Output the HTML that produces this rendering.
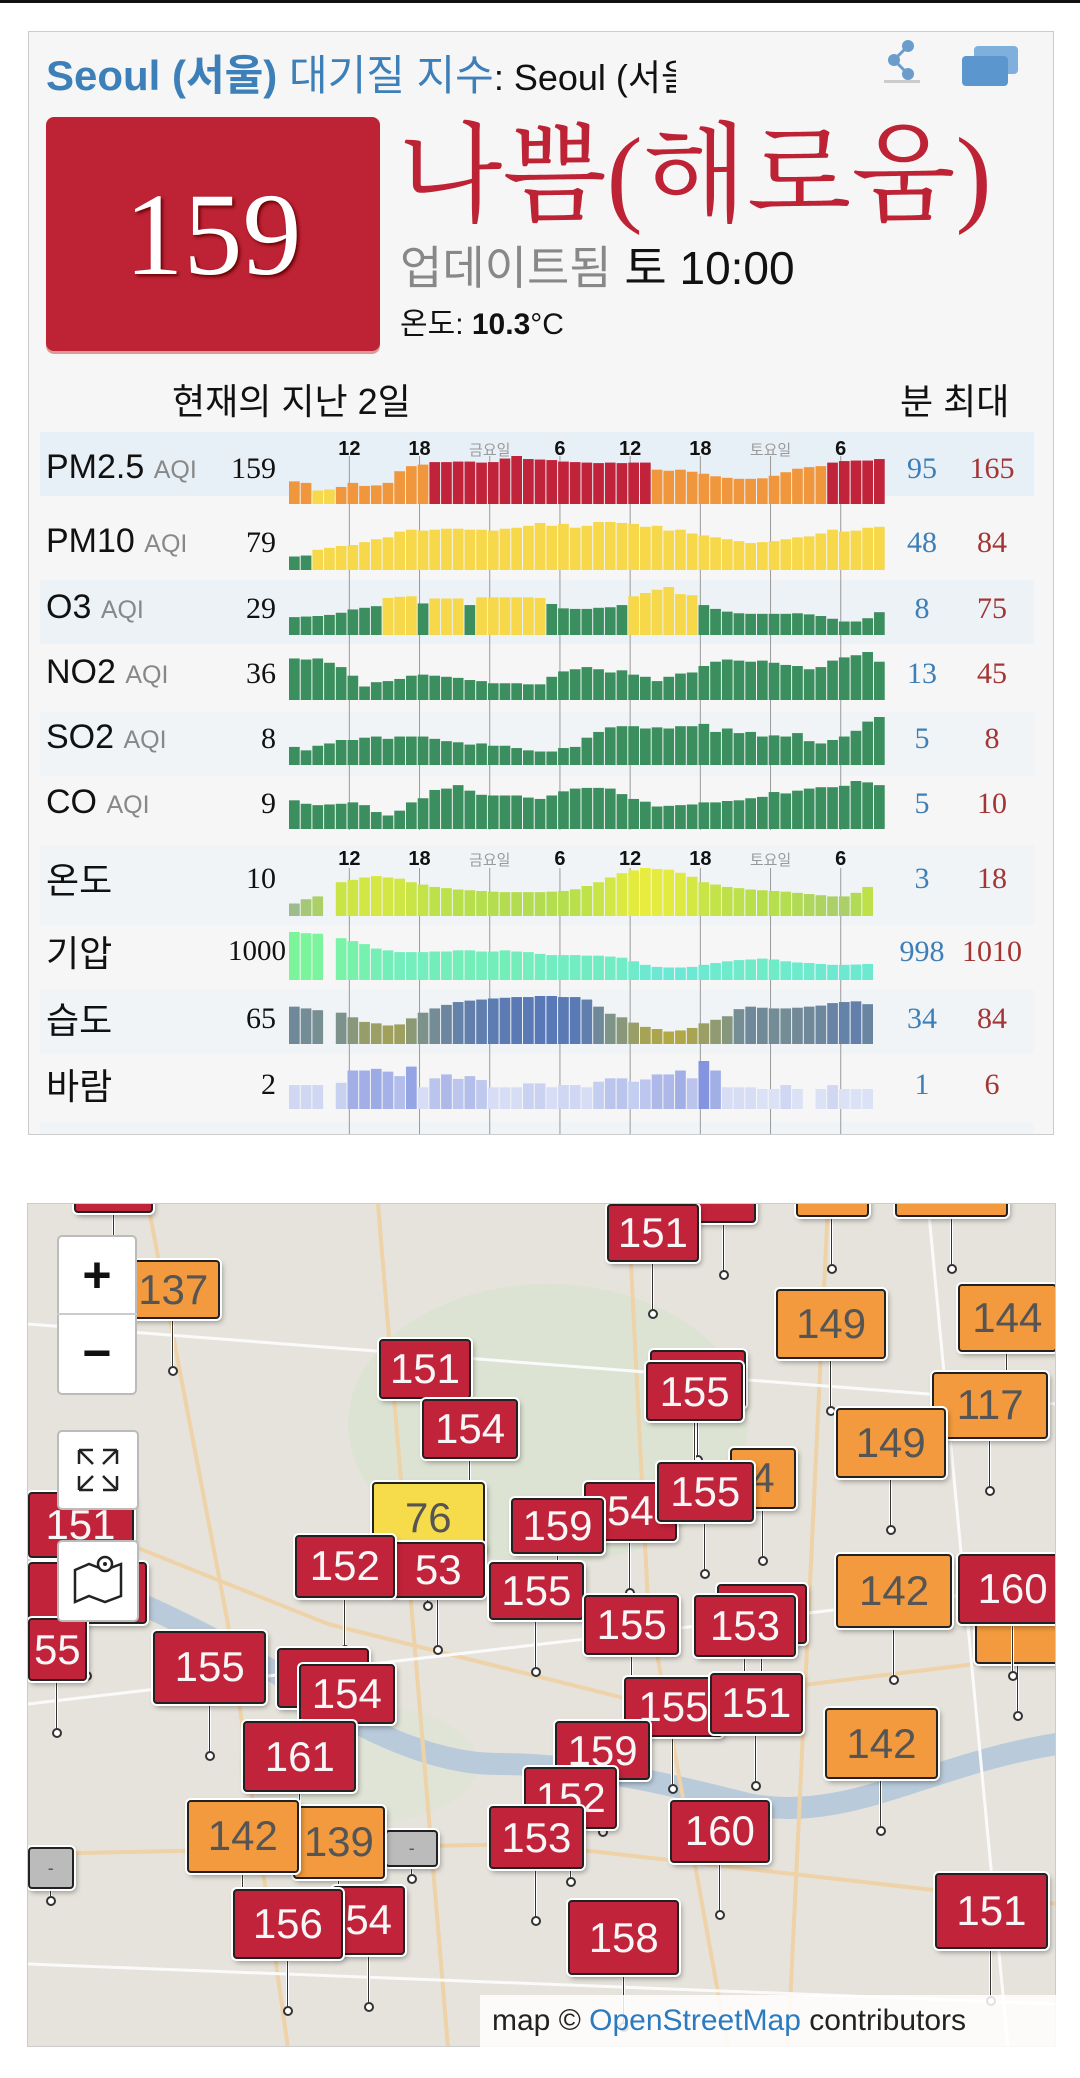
<!DOCTYPE html>
<html><head><meta charset="utf-8">
<style>
*{margin:0;padding:0;box-sizing:border-box}
body{width:1080px;height:2078px;background:#fff;position:relative;overflow:hidden;font-family:"Liberation Sans","Noto Sans CJK KR",sans-serif}
.a{position:absolute;white-space:nowrap}
#card{position:absolute;left:28px;top:31px;width:1026px;height:1104px;background:#f5f6f5;border:1px solid #ccc;overflow:hidden}
.band{position:absolute;left:40px;width:994px;height:64px}
.lbl{position:absolute;left:46px;font-size:34px;color:#111;font-family:"Liberation Sans Narrow","Liberation Sans","Noto Sans CJK KR",sans-serif}
.lbl small{font-size:25px;color:#888}
.cur{position:absolute;width:80px;text-align:right;left:196px;font-family:"Liberation Serif",serif;font-size:30px;color:#111}
.mn,.mx{position:absolute;width:90px;text-align:center;font-family:"Liberation Serif",serif;font-size:30px}
.mn{left:877px;color:#3d7fb8}.mx{left:947px;color:#a33535}
#map{position:absolute;left:27px;top:1203px;width:1029px;height:844px;background:#ece9e2;border:1px solid #ccc;overflow:hidden}
.mk{position:absolute;border:2px solid #222;box-shadow:0 0 0 2px #fff,2px 3px 6px rgba(0,0,0,.4);border-radius:4px;text-align:center;font-size:42px;color:#f4f4f4;font-family:"Liberation Sans",sans-serif}
.st{position:absolute;width:3px;background:#333;border-left:1px solid #fff;border-right:1px solid #fff}
.dt{position:absolute;width:10px;height:10px;border-radius:50%;background:#fff;border:2px solid #333}
.ctl{position:absolute;background:#fff;border:2px solid #bbb;border-radius:5px}
</style></head><body>
<div class="a" style="left:0;top:0;width:1080px;height:3px;background:#111"></div>
<div id="card"></div>

<div class="a" style="left:46px;top:42px;font-size:42px;font-family:'Liberation Sans Narrow','Liberation Sans','Noto Sans CJK KR',sans-serif;color:#3d7fb8;font-weight:bold;width:630px;overflow:hidden">Seoul (서울) <span style="font-weight:normal">대기질 지수</span><span style="color:#111;font-weight:normal;font-size:36px">: Seoul (서울)</span></div>
<svg class="a" style="left:880px;top:38px" width="44" height="46"><circle cx="28" cy="8" r="6" fill="#6a9ccc"/><circle cx="14" cy="22" r="6" fill="#6a9ccc"/><circle cx="28" cy="36" r="6" fill="#6a9ccc"/><path d="M28 8L14 22L28 36" stroke="#6a9ccc" stroke-width="3" fill="none"/><rect x="4" y="42" width="36" height="3" fill="#ccc"/></svg>
<svg class="a" style="left:960px;top:44px" width="62" height="44"><rect x="14" y="2" width="44" height="28" rx="4" fill="#7fb0dd"/><rect x="2" y="12" width="46" height="30" rx="4" fill="#5b96cf"/></svg>

<div class="a" style="left:46px;top:117px;width:334px;height:234px;background:#bd2235;border-radius:8px;box-shadow:0 3px 0 #d99"></div>
<div class="a" style="left:46px;top:160px;width:334px;text-align:center;font-family:'Liberation Serif',serif;font-size:118px;line-height:150px;color:#fff;text-shadow:2px 2px 3px #600">159</div>
<div class="a" style="left:398px;top:112px;font-family:'Liberation Serif','Noto Serif CJK SC',serif;font-size:108px;line-height:130px;color:#bd2235">나쁨(해로움)</div>
<div class="a" style="left:400px;top:240px;font-size:46px;line-height:56px;font-family:'Liberation Sans Narrow','Liberation Sans','Noto Sans CJK KR',sans-serif;color:#888">업데이트됨 <span style="color:#111">토 10:00</span></div>
<div class="a" style="left:400px;top:305px;font-size:30px;line-height:40px;color:#111;font-family:'Liberation Sans Narrow','Liberation Sans','Noto Sans CJK KR',sans-serif">온도: <b>10.3</b>°C</div>
<div class="a" style="left:172px;top:380px;font-size:36px;line-height:44px;color:#111">현재의 지난 2일</div>
<div class="a" style="left:900px;top:380px;font-size:36px;line-height:44px;color:#111">분 최대</div>

<div class="band" style="top:432px;background:#e8f0f7"></div>
<div class="band" style="top:580px;background:#ecf2f6"></div>
<div class="band" style="top:712px;background:#f1f4f6"></div>
<div class="band" style="top:845px;height:80px;background:#f1f4f6"></div>
<div class="band" style="top:990px;background:#f1f4f6"></div>
<div class="band" style="top:1122px;height:12px;background:#f1f4f6"></div>

<svg id="chart" class="a" style="left:0;top:0" width="1080" height="1134"></svg>
<div id="labels"></div>

<div id="map">
<svg class="a" style="left:0;top:0" width="1029" height="844">
<rect width="1029" height="844" fill="#e6e3dc"/>
<ellipse cx="520" cy="220" rx="200" ry="140" fill="#dde3d2"/>
<ellipse cx="330" cy="560" rx="120" ry="60" fill="#dfe4d6"/>
<path d="M0 360 C80 380 160 420 250 470 C320 520 400 560 470 560 C560 560 640 580 720 600 C820 620 900 560 1029 540" stroke="#b9cbdb" stroke-width="22" fill="none"/>
<path d="M0 300 L300 420 L620 500 L1029 450 M120 0 L200 420 L260 844 M600 0 L620 400 L700 844 M0 650 L500 640 L1029 700 M800 0 L760 844 M350 0 L420 844" stroke="#eed2a8" stroke-width="4" fill="none"/>
<path d="M0 120 L1029 200 M0 500 L1029 380 M0 760 L1029 800 M900 0 L980 844" stroke="#fafafa" stroke-width="3" fill="none"/>
</svg>
</div>

<script>
// ---- data (hourly, last ~2 days) ----
const tickHours=[12,18,24,30,36,42,48,54];
const tickLabels=['12','18','금요일','6','12','18','토요일','6'];
const pm25=[115,112,97,99,104,112,106,107,112,135,145,148,153,153,154,154,152,153,160,165,159,158,157,154,153,152,151,152,151,152,152,138,136,138,134,130,125,122,120,120,121,126,133,140,143,145,152,155,156,156,159];
const pm10=[48,49,55,57,59,60,63,66,68,74,76,75,76,77,77,76,76,75,77,78,80,83,80,82,78,80,84,84,83,82,79,80,75,76,72,70,68,66,64,62,63,64,66,68,69,72,76,74,75,78,79];
const o3=[20,21,22,24,28,34,37,40,55,57,58,45,54,54,54,42,56,56,56,56,56,55,44,36,35,35,37,38,42,58,64,70,75,62,60,42,35,30,27,26,26,26,26,27,25,22,17,12,12,18,29];
const no2=[39,38,39,35,31,23,13,17,18,20,23,24,23,22,21,19,18,16,16,16,15,15,22,27,29,31,29,26,28,24,22,18,22,25,26,32,36,38,37,36,37,35,33,32,29,31,37,40,42,45,36];
const so2=[5.4,5.1,5.5,5.7,6.0,6.0,6.2,6.3,6.1,6.3,6.3,6.3,6.1,5.9,5.8,5.6,5.7,5.5,5.5,5.3,5.1,5.0,5.0,5.3,5.4,6.2,6.7,7.1,7.2,7.2,7.0,7.1,7.0,7.2,7.2,7.4,6.7,7.0,6.6,6.7,6.3,6.4,6.3,6.6,5.9,5.7,6.0,6.3,6.8,7.6,8.0];
const co=[7.2,6.7,6.5,6.6,6.7,6.9,6.5,5.5,5.0,5.7,6.9,7.5,8.7,8.9,9.4,8.6,8.0,7.9,7.9,7.9,7.6,7.4,7.9,8.5,8.9,9.0,9.0,8.9,8.1,7.4,7.0,6.3,6.4,6.5,6.6,6.9,6.9,7.1,7.2,7.5,7.7,8.4,8.2,8.6,8.9,9.1,9.1,9.3,10.0,9.8,9.4];
const temp=[3,4.8,6,null,12,13,14,14.6,14,13.5,12,11,10,9.5,8.9,8.6,8.3,8,7.8,7.8,7.8,7.8,8,8.3,9,10.4,12,14,15.8,17,18,17.6,17.3,16,14.3,12,11,10,9.5,8.9,8.6,8.3,8,7.5,7,6.5,6,6,7.5,10];
const pres=[1010,1009.6,1009.4,null,1007.9,1006.9,1005.9,1004.4,1003.8,1003.2,1003.2,1003.2,1003.4,1003.4,1003.8,1003.8,1003.4,1003.4,1003.8,1003.4,1003.2,1002.6,1002.2,1002.2,1002.2,1002,1002,1001.7,1001.3,1000.1,998.9,998.2,998,998,998.2,998.9,999.5,1000.1,1000.5,1000.7,1001,1000.7,1000.1,999.7,999.5,999.2,998.9,998.9,999,999.2];
const hum=[69,66.5,64,null,60.5,54,47.5,45.5,42.5,44,52.5,60.5,66.5,71.5,75.5,77.5,79,80.5,81.5,82.5,82.5,84,84,82.5,82.5,79,69,59,54,46.5,40.5,37.5,34,35.5,39,45.5,50.5,55.5,65.5,69,67.5,66.5,66.5,67.5,69,70.5,74,75.5,76.5,72.5];
const wind=[1.7,1.7,1.7,null,2.1,4.3,4.3,4.6,4.1,3.3,5.0,1.3,2.9,3.6,2.8,3.3,2.6,1.3,1.3,1.3,2.0,2.0,1.3,1.7,1.7,1.3,2.3,2.9,2.9,2.3,2.7,3.6,3.6,4.3,2.9,6.0,4.3,1.3,1.3,1.3,1.0,1.0,1.7,1.0,null,1.0,1.7,1.0,1.0,1.0];

const aqiRows=[
 {name:'pm25',label:'PM2.5',vals:pm25,cur:159,mn:95,mx:165},
 {name:'pm10',label:'PM10',vals:pm10,cur:79,mn:48,mx:84},
 {name:'o3',label:'O3',vals:o3,cur:29,mn:8,mx:75},
 {name:'no2',label:'NO2',vals:no2,cur:36,mn:13,mx:45},
 {name:'so2',label:'SO2',vals:so2,cur:8,mn:5,mx:8},
 {name:'co',label:'CO',vals:co,cur:9,mn:5,mx:10}];
const wxRows=[
 {name:'temperature',label:'온도',vals:temp,cur:10,mn:3,mx:18},
 {name:'pressure',label:'기압',vals:pres,cur:1000,mn:998,mx:1010},
 {name:'humidity',label:'습도',vals:hum,cur:65,mn:34,mx:84},
 {name:'wind',label:'바람',vals:wind,cur:2,mn:1,mx:6}];

// ---- layout ----
const X0=289,STEP=11.7,BW=10.7,FIRST_HOUR=7.3;
const aqiBase=[504,570,635,700,765,829];
const wxBase=[916,980,1044,1109];
const labelY=[472,546,612,677,742,807,882,955,1022,1088];
const NS='http://www.w3.org/2000/svg';
const svg=document.getElementById('chart');
const xOf=i=>X0+i*STEP;
const xHour=h=>X0+(h-FIRST_HOUR)*STEP+BW/2;
function hex(c){return [1,3,5].map(k=>parseInt(c.substr(k,2),16));}
function mix(a,b,t){a=hex(a);b=hex(b);return 'rgb('+a.map((v,k)=>Math.round(v+(b[k]-v)*t)).join(',')+')';}
function aqiColor(v){return v<=50?'#3b8e5d':v<=100?'#f6d84a':v<=150?'#f0963c':'#c1233a';}
const wxColor=[
 t=>t<0.35?mix('#9cbc8c','#b5df4c',t/0.35):mix('#b5df4c','#e8ec3e',(t-0.35)/0.65),
 t=>mix('#6ce8d6','#7cf59a',t),
 t=>t<0.5?mix('#b2a844','#7f9488',t/0.5):mix('#7f9488','#5878b8',(t-0.5)/0.5),
 t=>mix('#dbe2f5','#8494e0',t)];
function el(tag,attrs){const e=document.createElementNS(NS,tag);for(const k in attrs)e.setAttribute(k,attrs[k]);svg.appendChild(e);return e;}

tickHours.forEach((h,i)=>{
  const g1=el('line',{x1:xHour(h),x2:xHour(h),y1:456,y2:830,stroke:'#999','stroke-width':1});
  
  
  const g2=el('line',{x1:xHour(h),x2:xHour(h),y1:868,y2:1134,stroke:'#999','stroke-width':1});
  
  
});
function ticks(y){
  tickHours.forEach((h,i)=>{
    const day=tickLabels[i].length>2;
    const t=el('text',{x:xHour(h),y:y,'text-anchor':'middle','font-size':day?15:20,'font-weight':day?'normal':'bold',fill:day?'#999':'#111','font-family':'Liberation Sans Narrow,Liberation Sans,Noto Sans CJK KR,sans-serif'});
    t.textContent=tickLabels[i];
    
    
  });
}
ticks(455);ticks(865);

function drawRow(vals,base,hLo,hHi,colorFn,rowName){
  const nums=vals.filter(v=>v!==null);
  const lo=Math.min(...nums),hi=Math.max(...nums);
  vals.forEach((v,i)=>{
    if(v===null)return;
    const t=hi>lo?(v-lo)/(hi-lo):0.5;
    const h=hLo+t*(hHi-hLo);
    const r=el('rect',{x:xOf(i),y:base-h,width:BW,height:h,fill:colorFn(v,t)});
    
    
  });
}
aqiRows.forEach((r,k)=>drawRow(r.vals,aqiBase[k],13.5,48,v=>aqiColor(v),r.name));
wxRows.forEach((r,k)=>drawRow(r.vals,wxBase[k],k===3?20:12.5,48,(v,t)=>wxColor[k](t),r.name));

const L=document.getElementById('labels');
function addDiv(cls,name,top,html,extra){
  const d=document.createElement('div');d.className=cls;d.style.top=top+'px';if(extra)d.style.cssText+=extra;d.innerHTML=html;
  
  
  L.appendChild(d);
}
aqiRows.concat(wxRows).forEach((r,k)=>{
  const y=labelY[k]-22;
  const isAqi=k<6;
  addDiv('lbl',r.name+'-label',y-2,r.label+(isAqi?' <small>AQI</small>':''),isAqi?'':'font-size:36px;top:'+(y-8)+'px');
  addDiv('cur',r.name+'-current',y+2,r.cur,r.cur>=1000?'font-size:29px;left:206px':'');
  addDiv('mn',r.name+'-min',y+2,r.mn);
  addDiv('mx',r.name+'-max',y+2,r.mx);
});

// ---- map markers (display coords, scale 1.325) ----
const S=1.325,MX=27,MY=1203;
const markers=[
 [55,870,115,915,'','r'],[600,880,655,918,'','o'],[675,870,760,918,'169','o'],[522,880,570,922,'','r'],
 [457,908,527,952,'151','r'],[95,950,165,995,'137','o'],[585,972,668,1025,'149','o'],[722,968,797,1020,'144','o'],
 [285,1010,355,1055,'151','r'],[490,1018,562,1062,'','r'],[487,1027,560,1072,'155','r'],[318,1055,390,1100,'154','r'],
 [703,1035,790,1085,'117','o'],[630,1062,713,1115,'149','o'],[550,1092,600,1138,'4','o'],[440,1118,510,1162,'54','r'],
 [495,1103,568,1148,'155','r'],[280,1118,365,1172,'76','y'],[385,1130,455,1172,'159','r'],
 [20,1125,100,1175,'151','r'],[20,1178,110,1225,'53','r'],[295,1163,365,1205,'53','r'],[222,1158,297,1205,'152','r'],
 [368,1178,440,1222,'155','r'],[440,1203,512,1248,'155','r'],[540,1195,608,1240,'','r'],[523,1203,600,1250,'153','r'],
 [630,1172,718,1228,'142','o'],[735,1210,800,1255,'','o'],[722,1172,805,1225,'160','r'],[20,1220,65,1268,'55','r'],
 [115,1230,200,1285,'155','r'],[208,1243,278,1288,'','r'],[225,1255,297,1300,'154','r'],[470,1265,545,1310,'155','r'],
 [535,1262,605,1308,'151','r'],[622,1288,707,1342,'142','o'],[183,1298,268,1352,'161','r'],[418,1298,490,1343,'159','r'],
 [395,1333,465,1380,'152','r'],[505,1358,580,1405,'160','r'],[368,1362,440,1410,'153','r'],[290,1380,330,1408,'-','g'],
 [20,1393,55,1425,'-','g'],[220,1362,290,1417,'139','o'],[140,1358,225,1413,'142','o'],[250,1423,305,1475,'54','r'],
 [175,1425,258,1478,'156','r'],[428,1433,512,1490,'158','r'],[705,1413,790,1470,'151','r']];
const mcol={r:'#c1233a',o:'#f29a3d',y:'#f6dc4a',g:'#bbb'};
const map=document.getElementById('map');
markers.forEach(m=>{
  const x1=m[0]*S-MX,y1=m[1]*S-MY,x2=m[2]*S-MX,y2=m[3]*S-MY;
  const cx=(x1+x2)/2,stem=m[5]==='g'?12:52;
  const s=document.createElement('div');s.className='st';
  s.style.cssText+=`left:${cx-2}px;top:${y2}px;height:${stem}px`;
  
  
  map.appendChild(s);
  const d=document.createElement('div');d.className='dt';
  d.style.cssText+=`left:${cx-5}px;top:${y2+stem-5}px`;
  
  
  map.appendChild(d);
  const b=document.createElement('div');b.className='mk';
  b.style.cssText+=`left:${x1}px;top:${y1}px;width:${x2-x1}px;height:${y2-y1}px;line-height:${y2-y1-4}px;background:${mcol[m[5]]};color:${m[5]==='r'?'#f6f6f6':'#555'}`;
  if(m[5]==='g')b.style.fontSize='18px';
  b.textContent=m[4];
  
  
  map.appendChild(b);
});
</script>
<div class="ctl" style="left:57px;top:1235px;width:80px;height:160px"></div>
<div class="a" style="left:57px;top:1235px;width:80px;height:80px;text-align:center;font-size:50px;line-height:80px;font-weight:bold;color:#111;border-bottom:2px solid #ccc">+</div>
<div class="a" style="left:57px;top:1315px;width:80px;height:80px;text-align:center;font-size:50px;line-height:76px;font-weight:bold;color:#111">−</div>
<div class="ctl" style="left:57px;top:1430px;width:82px;height:80px">
<svg width="78" height="76"><path d="M20 18h14M20 18v14M20 18l14 14M58 18h-14M58 18v14M58 18l-14 14M20 58h14M20 58v-14M20 58l14-14M58 58h-14M58 58v-14M58 58l-14-14" stroke="#222" stroke-width="2.5" fill="none"/></svg></div>
<div class="ctl" style="left:57px;top:1540px;width:82px;height:82px">
<svg width="78" height="78"><path d="M16 28l14-6 16 6 16-6v32l-16 6-16-6-14 6z" stroke="#222" stroke-width="2.5" fill="#fff"/><circle cx="46" cy="22" r="7" fill="#fff" stroke="#222" stroke-width="2.5"/><circle cx="46" cy="22" r="2" fill="#222"/></svg></div>
<div class="a" style="left:480px;top:1995px;width:576px;height:52px;background:rgba(255,255,255,.85);font-size:30px;line-height:52px;padding-left:12px;color:#222">map © <span style="color:#2b7bc0">OpenStreetMap</span> contributors</div>
</body></html>
